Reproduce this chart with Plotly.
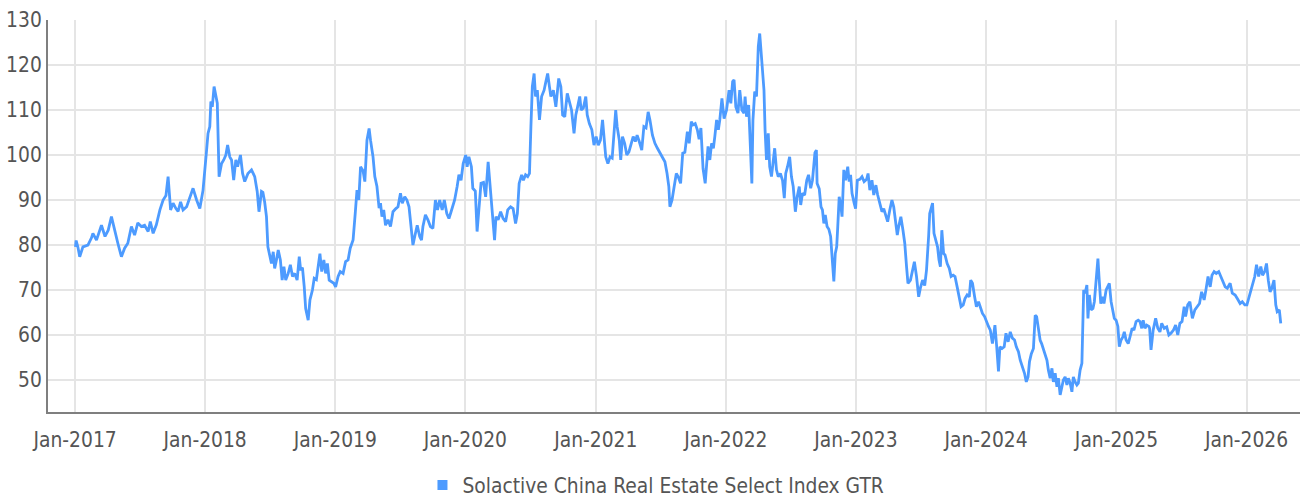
import plotly.graph_objects as go

SERIES_NAME = "Solactive China Real Estate Select Index GTR"

X_TICK_DATES = ["2017-01-01", "2018-01-01", "2019-01-01", "2020-01-01", "2021-01-01",
                "2022-01-01", "2023-01-01", "2024-01-01", "2025-01-01", "2026-01-01"]
X_TICK_LABELS = ["Jan-2017", "Jan-2018", "Jan-2019", "Jan-2020", "Jan-2021",
                 "Jan-2022", "Jan-2023", "Jan-2024", "Jan-2025", "Jan-2026"]
Y_TICKS = [50, 60, 70, 80, 90, 100, 110, 120, 130]

# ---- data (date "MM-DD" per year, index level) ----
d2017 = ["01-02", "01-04", "01-09", "01-14", "01-23",
         "02-06", "02-16", "02-20",
         "03-02", "03-16", "03-26",
         "04-04", "04-13", "04-23",
         "05-01", "05-11", "05-20", "05-29",
         "06-08", "06-17", "06-26",
         "07-06", "07-15", "07-25", "07-31",
         "08-08", "08-17", "08-27",
         "09-05", "09-13", "09-19", "09-26",
         "10-03", "10-11", "10-17", "10-24", "10-31",
         "11-10", "11-19", "11-28",
         "12-08", "12-17", "12-26", "12-30"]
v2017 = [79.6, 81.0, 79.5, 77.4, 79.6,
         80.0, 81.6, 82.6,
         81.1, 84.4, 81.9,
         83.3, 86.3, 82.6,
         80.4, 77.4, 79.3, 80.4,
         84.1, 82.2, 84.9,
         84.1, 84.4, 83.0, 85.2,
         82.6, 84.5, 87.8,
         90.0, 91.0, 95.2, 87.8,
         89.3, 88.1, 87.5, 89.6, 87.8,
         88.5, 90.7, 92.6,
         90.0, 88.1, 92.2, 95.2]

d2018 = ["01-05", "01-09", "01-14", "01-17", "01-21", "01-26", "01-31",
         "02-04", "02-09", "02-16", "02-22", "02-28",
         "03-05", "03-11", "03-16", "03-22", "03-28",
         "04-02", "04-10", "04-16", "04-22",
         "05-01", "05-11", "05-20", "05-27",
         "06-01", "06-08", "06-12", "06-17", "06-22", "06-26",
         "07-01", "07-06", "07-11", "07-15", "07-20", "07-25", "07-31",
         "08-05", "08-10", "08-15", "08-22", "08-28",
         "09-03", "09-09", "09-16", "09-22", "09-26",
         "10-01", "10-06", "10-10", "10-17", "10-22", "10-29",
         "11-03", "11-09", "11-14", "11-19", "11-24", "11-30",
         "12-05", "12-10", "12-15", "12-21", "12-28"]
v2018 = [101.1, 104.8, 106.3, 111.9, 110.7, 115.2, 113.0,
         111.5, 95.2, 98.1, 98.9, 100.0,
         102.2, 99.6, 98.9, 94.4, 98.9,
         97.4, 100.0, 95.9, 94.1,
         95.9, 96.7, 95.2, 91.9,
         87.4, 91.9, 91.7, 89.5, 86.3, 79.6,
         77.5, 75.9, 78.5, 74.8, 76.7, 78.9, 76.7,
         72.2, 75.2, 72.2, 73.7, 75.6,
         73.0, 73.7, 72.2, 77.4, 74.4,
         75.0, 70.7, 65.9, 63.3, 67.8, 70.0,
         72.6, 72.3, 75.2, 78.1, 74.1, 76.7,
         73.7, 75.9, 72.2, 71.9, 71.5]

d2019 = ["01-02", "01-09", "01-15", "01-23", "01-30",
         "02-06", "02-12", "02-20", "02-26",
         "03-03", "03-08", "03-13", "03-20", "03-25", "03-31",
         "04-06", "04-10", "04-17", "04-22", "04-28",
         "05-04", "05-08", "05-12", "05-17", "05-22", "05-29",
         "06-05", "06-12", "06-20", "06-26",
         "07-03", "07-08", "07-15", "07-21", "07-27",
         "08-03", "08-07", "08-14", "08-19", "08-26", "08-31",
         "09-04", "09-11", "09-18", "09-25",
         "10-02", "10-09", "10-15", "10-21", "10-28",
         "11-03", "11-10", "11-16", "11-22", "11-27",
         "12-02", "12-09", "12-14", "12-20", "12-26"]
v2019 = [70.7, 73.0, 74.1, 73.7, 76.3,
         76.7, 79.3, 81.1, 87.0,
         92.2, 90.0, 97.4, 96.5, 94.1, 103.3,
         105.9, 103.3, 99.6, 95.2, 93.0,
         88.2, 89.3, 86.3, 87.8, 84.4, 85.6,
         84.1, 87.4, 88.1, 88.5,
         91.5, 89.3, 90.7, 90.0, 88.5,
         83.3, 80.0, 82.6, 84.4, 81.9, 81.1,
         84.1, 86.7, 85.6, 84.1,
         83.7, 90.0, 87.8, 90.0, 87.8,
         90.0, 87.0, 85.9, 87.4, 88.5,
         90.0, 93.0, 95.6, 94.4, 98.1]

d2020 = ["01-02", "01-06", "01-11", "01-18", "01-22", "01-29",
         "02-03", "02-08", "02-14", "02-21", "02-27",
         "03-05", "03-10", "03-16", "03-19", "03-23", "03-27",
         "04-02", "04-09", "04-16", "04-23", "04-29",
         "05-07", "05-14", "05-21", "05-26", "05-31",
         "06-07", "06-12", "06-18", "06-24", "06-29",
         "07-03", "07-07", "07-12", "07-16", "07-21", "07-27",
         "08-02", "08-09", "08-14", "08-19", "08-24", "08-28",
         "09-04", "09-11", "09-19", "09-25", "09-30",
         "10-06", "10-13", "10-19", "10-25",
         "11-01", "11-06", "11-11", "11-17", "11-21", "11-27",
         "12-04", "12-08", "12-14", "12-21", "12-27"]
v2020 = [100.0, 97.4, 99.6, 97.4, 92.6, 92.0,
         83.0, 87.5, 93.7, 93.9, 90.7,
         98.5, 93.7, 88.5, 84.1, 81.1, 86.3,
         85.6, 87.4, 85.9, 85.2, 87.8,
         88.5, 88.1, 84.8, 87.0, 93.7,
         95.6, 94.4, 95.6, 95.2, 95.9,
         106.3, 115.2, 118.1, 113.0, 114.4, 107.8,
         113.0, 114.4, 116.3, 118.1, 115.2, 113.0,
         114.4, 110.7, 117.0, 115.2, 108.9,
         108.5, 113.7, 111.5, 110.0,
         104.8, 108.9, 110.7, 113.0, 110.0, 110.4,
         113.0, 108.9, 107.0, 105.6, 102.2]

d2021 = ["01-02", "01-08", "01-14", "01-20", "01-25", "01-29",
         "02-04", "02-10", "02-16", "02-21", "02-26",
         "03-02", "03-08", "03-12", "03-17", "03-23", "03-29",
         "04-04", "04-09", "04-16", "04-22", "04-27",
         "05-03", "05-10", "05-16", "05-22", "05-28",
         "06-02", "06-09", "06-16", "06-23", "06-30",
         "07-07", "07-14", "07-20", "07-25", "07-28",
         "08-03", "08-09", "08-15", "08-20", "08-27",
         "09-02", "09-08", "09-15", "09-20", "09-26",
         "10-01", "10-07", "10-13", "10-18", "10-23", "10-29",
         "11-04", "11-12", "11-17", "11-22", "11-27",
         "12-01", "12-06", "12-11", "12-15", "12-21", "12-27"]
v2021 = [104.1, 102.2, 103.3, 107.8, 103.3, 99.6,
         98.1, 99.6, 99.3, 104.8, 110.0,
         106.3, 103.3, 98.9, 104.1, 102.6, 100.0,
         100.7, 102.2, 104.1, 103.0, 104.4,
         103.0, 101.1, 106.3, 106.0, 109.6,
         107.8, 104.4, 102.6, 101.5, 100.4,
         99.3, 98.5, 95.9, 93.0, 88.5,
         90.0, 93.0, 95.9, 95.2, 93.7,
         100.4, 100.6, 105.2, 102.6, 107.4,
         106.7, 107.0, 105.6, 103.5, 106.0, 97.0,
         93.7, 101.9, 98.9, 102.6, 101.5,
         104.1, 107.8, 105.6, 107.8, 112.6, 108.1]

d2022 = ["01-03", "01-07", "01-10", "01-15", "01-20", "01-24", "01-29",
         "02-04", "02-09", "02-15", "02-21", "02-24", "02-28",
         "03-06", "03-09", "03-12", "03-15", "03-18", "03-23", "03-28",
         "04-02", "04-06", "04-10", "04-14", "04-18", "04-21", "04-25", "04-30",
         "05-04", "05-09", "05-14", "05-18", "05-23", "05-28",
         "06-03", "06-09", "06-14", "06-18", "06-23", "06-29",
         "07-04", "07-09", "07-15", "07-20", "07-26", "07-30",
         "08-04", "08-10", "08-16", "08-21", "08-27",
         "09-01", "09-08", "09-12", "09-14", "09-20", "09-25", "09-29",
         "10-03", "10-07", "10-12", "10-17", "10-22", "10-26", "10-31",
         "11-04", "11-08", "11-11", "11-15", "11-20", "11-23", "11-28",
         "12-03", "12-09", "12-13", "12-17", "12-21", "12-27", "12-31"]
v2022 = [110.0, 112.6, 114.4, 111.5, 116.3, 116.7, 110.7,
         109.3, 114.4, 110.0, 109.3, 113.0, 108.5,
         111.1, 105.6, 101.1, 93.7, 107.8, 114.1, 113.0,
         124.1, 127.0, 122.6, 118.9, 114.4, 105.6, 98.9, 104.8,
         97.4, 95.2, 99.6, 101.5, 96.7, 95.2,
         95.9, 94.4, 90.4, 95.9, 97.4, 99.6,
         95.2, 93.0, 87.4, 90.7, 93.0, 88.9,
         91.5, 91.1, 94.4, 95.6, 92.6,
         94.4, 100.5, 101.1, 93.7, 92.5, 88.5, 87.8,
         84.8, 86.7, 84.1, 83.5, 81.9, 77.4, 71.9,
         78.1, 79.6, 84.1, 90.7, 88.5, 86.3, 96.7,
         94.4, 97.4, 94.1, 95.6, 91.5, 89.3, 88.1]

d2023 = ["01-05", "01-12", "01-18", "01-24", "01-31",
         "02-04", "02-09", "02-15", "02-20", "02-26",
         "03-03", "03-09", "03-15", "03-20", "03-26", "03-31",
         "04-06", "04-12", "04-17", "04-23", "04-27",
         "05-01", "05-07", "05-13", "05-18", "05-23", "05-27",
         "06-03", "06-09", "06-14", "06-20", "06-26",
         "07-01", "07-07", "07-13", "07-18", "07-24", "07-27",
         "08-04", "08-08", "08-13", "08-18", "08-22", "08-26", "08-30",
         "09-04", "09-08", "09-14", "09-20", "09-25",
         "10-01", "10-06", "10-12", "10-18", "10-23", "10-29",
         "11-03", "11-09", "11-15", "11-19", "11-24", "11-30",
         "12-05", "12-11", "12-17", "12-22", "12-28"]
v2023 = [94.4, 94.6, 95.2, 94.1, 94.6,
         95.9, 92.2, 94.4, 91.1, 93.3,
         91.1, 88.9, 87.4, 88.1, 86.7, 85.2,
         87.8, 90.0, 88.5, 84.1, 82.2,
         84.1, 86.3, 83.3, 80.4, 75.2, 71.5,
         72.2, 74.4, 76.3, 73.0, 68.5,
         70.5, 72.2, 71.0, 74.4, 82.0, 87.0,
         89.3, 82.6, 81.1, 79.6, 76.7, 75.2, 83.3,
         78.1, 77.8, 75.9, 74.8, 73.0,
         73.3, 73.0, 70.7, 68.5, 66.3, 66.7,
         68.1, 68.9, 68.5, 72.2, 71.5, 68.5,
         66.3, 67.4, 65.9, 64.8, 64.1]

d2024 = ["01-02", "01-08", "01-13", "01-19", "01-23", "01-26", "01-31",
         "02-05", "02-09", "02-15", "02-21", "02-26",
         "03-03", "03-09", "03-15", "03-21", "03-26",
         "04-01", "04-06", "04-12", "04-18", "04-23", "04-28",
         "05-02", "05-07", "05-13", "05-18", "05-22", "05-27",
         "06-01", "06-05", "06-10", "06-15", "06-20", "06-24", "06-29",
         "07-04", "07-08", "07-13", "07-18", "07-22", "07-27",
         "08-01", "08-05", "08-10", "08-15", "08-19", "08-24", "08-29",
         "09-02", "09-07", "09-12", "09-16", "09-21", "09-26", "09-28",
         "10-01", "10-05", "10-10", "10-13", "10-17", "10-22", "10-27", "10-31",
         "11-05", "11-10", "11-13", "11-18", "11-23", "11-27",
         "12-03", "12-08", "12-12", "12-17", "12-22", "12-26", "12-31"]
v2024 = [63.0, 61.9, 61.1, 58.1, 60.4, 62.2, 57.4,
         51.9, 57.4, 57.0, 57.4, 60.4,
         58.5, 60.7, 59.3, 58.9, 57.4,
         56.3, 54.4, 53.0, 51.5, 49.6, 50.7,
         54.1, 55.8, 57.0, 64.4, 64.1, 61.0,
         58.8, 58.1, 56.7, 55.9, 54.4, 52.2, 50.4,
         52.6, 49.6, 51.5, 48.5, 50.4, 46.7,
         48.5, 50.0, 50.7, 48.9, 50.4, 49.3, 47.4,
         50.7, 49.6, 48.9, 49.3, 52.2, 53.7, 62.6,
         70.0, 69.3, 71.1, 63.7, 68.9, 65.6, 65.9, 67.4,
         71.5, 77.0, 73.0, 67.0, 68.5, 67.0,
         70.0, 70.7, 71.5, 67.4, 65.2, 63.7, 63.3]

d2025 = ["01-05", "01-09", "01-14", "01-19", "01-23", "01-28",
         "02-03", "02-08", "02-14", "02-19", "02-25",
         "03-03", "03-08", "03-13", "03-17", "03-22", "03-27",
         "04-02", "04-04", "04-08", "04-14", "04-21", "04-27",
         "05-03", "05-08", "05-15", "05-22", "05-28",
         "06-03", "06-10", "06-16", "06-22", "06-28",
         "07-04", "07-10", "07-14", "07-20", "07-26",
         "08-02", "08-09", "08-15", "08-22", "08-28",
         "09-04", "09-09", "09-15", "09-21", "09-26",
         "10-02", "10-08", "10-15", "10-21", "10-27",
         "11-02", "11-08", "11-16", "11-22", "11-30",
         "12-06", "12-14", "12-20", "12-27"]
v2025 = [61.9, 57.4, 58.9, 59.6, 60.7, 58.9,
         58.1, 59.6, 61.5, 61.1, 63.0,
         63.3, 63.0, 61.5, 63.3, 61.5, 62.2,
         61.9, 61.5, 56.7, 61.1, 63.7, 61.5,
         60.7, 62.6, 61.5, 61.8, 60.0,
         60.4, 61.1, 62.2, 60.0, 62.6,
         63.0, 66.3, 64.1, 66.7, 67.4,
         63.7, 65.6, 66.3, 67.0, 69.6,
         67.8, 70.0, 73.0, 70.7, 73.3,
         74.1, 73.7, 74.1, 73.0, 71.5,
         70.7, 70.4, 71.5, 69.3, 68.9,
         68.1, 67.0, 67.4, 66.7]

d2026 = ["01-02", "01-07", "01-12", "01-18", "01-24", "01-29",
         "02-04", "02-10", "02-15", "02-21", "02-26",
         "03-03", "03-08", "03-13", "03-19", "03-24", "03-28",
         "04-03", "04-07"]
v2026 = [66.7, 68.1, 70.0, 71.5, 73.0, 75.6,
         73.0, 75.2, 73.3, 74.1, 75.9,
         72.2, 69.6, 70.4, 72.2, 66.7, 65.2,
         65.6, 62.6]

YEARS = {2017: (d2017, v2017), 2018: (d2018, v2018), 2019: (d2019, v2019),
         2020: (d2020, v2020), 2021: (d2021, v2021), 2022: (d2022, v2022),
         2023: (d2023, v2023), 2024: (d2024, v2024), 2025: (d2025, v2025),
         2026: (d2026, v2026)}

dates, values = [], []
for yr, (ds, vs) in YEARS.items():
    assert len(ds) == len(vs), (yr, len(ds), len(vs))
    dates += [f"{yr}-{md}" for md in ds]
    values += vs

BLUE = "#4d9bff"
GRID = "#e5e5e5"
AXIS = "#7f7f7f"
TEXT = "#555555"
FONT = "DejaVu Sans Condensed, Liberation Sans Narrow, sans-serif"

fig = go.Figure()
fig.add_trace(go.Scatter(x=dates, y=values, mode="lines",
                         line=dict(color=BLUE, width=2.8),
                         showlegend=False, hoverinfo="skip"))
fig.add_trace(go.Scatter(x=[None], y=[None], mode="markers", name=SERIES_NAME,
                         marker=dict(symbol="square", size=10, color=BLUE)))

fig.update_layout(
    width=1304, height=500,
    margin=dict(l=48, r=4, t=20, b=88, autoexpand=False),
    paper_bgcolor="white", plot_bgcolor="white",
    font=dict(family=FONT, size=20.8, color=TEXT),
    showlegend=True,
    legend=dict(orientation="h", x=0.4856, xanchor="center", y=-0.135, yanchor="top",
                font=dict(family=FONT, size=20.8, color=TEXT),
                itemwidth=30, bgcolor="rgba(0,0,0,0)"),
    xaxis=dict(type="date", range=["2016-10-17", "2026-05-31"],
               tickvals=X_TICK_DATES, ticktext=X_TICK_LABELS,
               showgrid=True, gridcolor=GRID, gridwidth=2,
               showline=True, linecolor=AXIS, linewidth=2,
               ticks="", zeroline=False, ticklabelstandoff=8),
    yaxis=dict(range=[42.9, 130], tickvals=Y_TICKS,
               showgrid=True, gridcolor=GRID, gridwidth=2,
               showline=True, linecolor=AXIS, linewidth=2,
               ticks="", zeroline=False, ticklabelstandoff=0),
)

fig.write_html("out.html", config={"displayModeBar": False},
               post_script="document.body.style.margin='0';")
